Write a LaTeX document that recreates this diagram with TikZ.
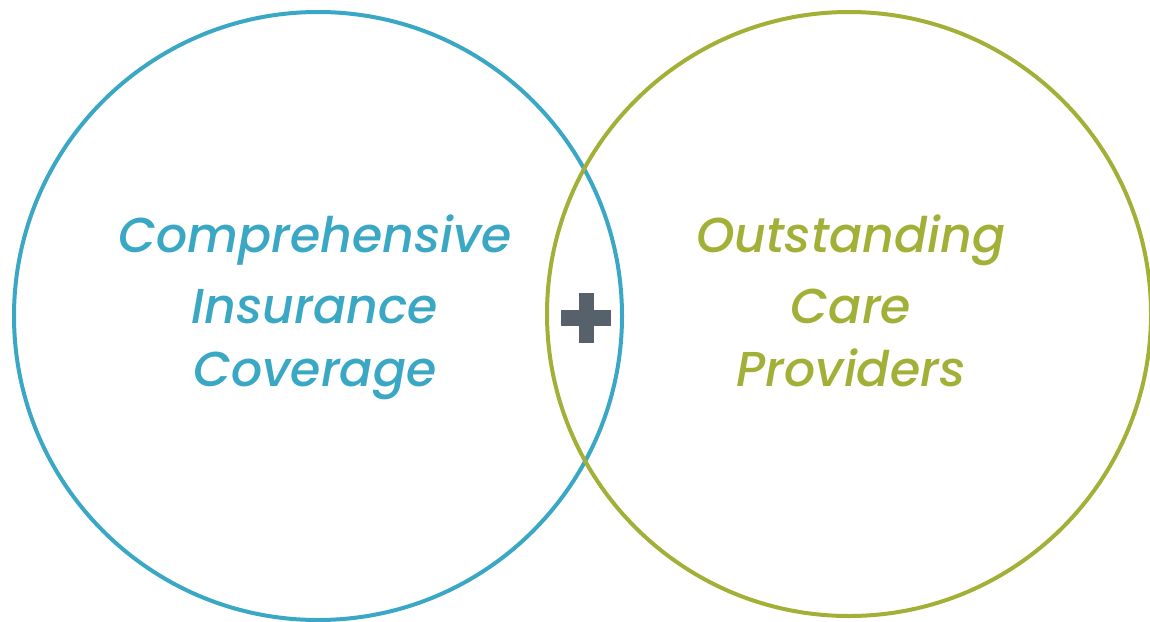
\documentclass[tikz,border=0pt]{standalone}
\usepackage{fontspec}
\setmainfont{Poppins}[ItalicFont={Poppins Medium Italic}]
\usepackage{tikz}
\definecolor{coverblue}{RGB}{58,168,196}
\definecolor{careolive}{RGB}{163,176,56}
\definecolor{plusgray}{RGB}{86,97,107}

\begin{document}
\begin{tikzpicture}[x=1pt,y=1pt]
\tikzstyle{every node}+=[inner sep=0pt]
\tikzstyle{label}=[anchor=base, font=\fontsize{49}{56}\selectfont\itshape]
\useasboundingbox (0,0) rectangle (1150,-621);
\draw [coverblue, line width=4] (318,-316) circle (304);
\draw [careolive, line width=4] (849,-314) circle (302);
\node [label, text=coverblue] (comp) at (315,-252) {Comprehensive};
\node [label, text=coverblue] (insur) at (315,-323) {Insurance};
\node [label, text=coverblue] (cover) at (315,-386) {Coverage};
\node [label, text=careolive] (outst) at (851,-252) {Outstanding};
\node [label, text=careolive] (care) at (851,-323) {Care};
\node [label, text=careolive] (prov) at (851,-386) {Providers};
\fill [plusgray] (561,-310) rectangle (611,-326);
\fill [plusgray] (579,-293) rectangle (594,-343);
\end{tikzpicture}
\end{document}
